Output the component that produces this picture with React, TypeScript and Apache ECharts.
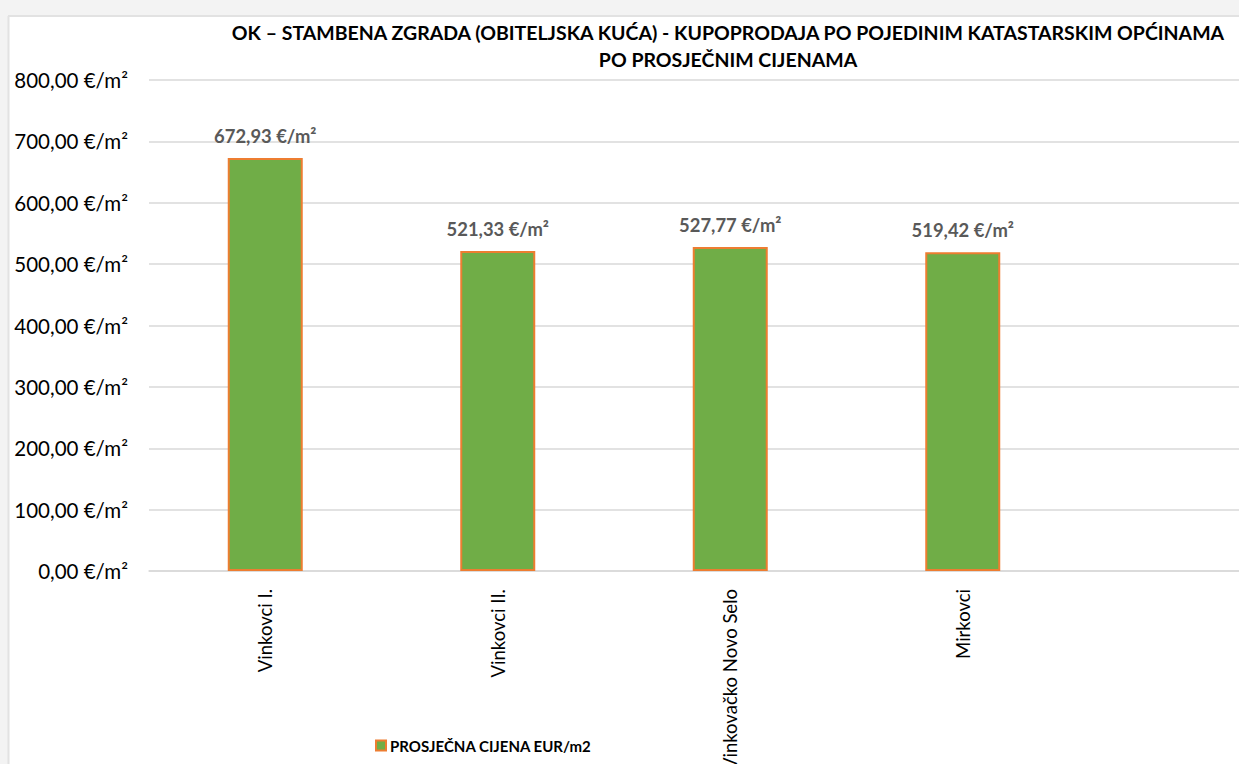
import React, { useEffect, useRef } from "react";
import * as echarts from "echarts";

const categories = ["Vinkovci I.", "Vinkovci II.", "Vinkovačko Novo Selo", "Mirkovci"];
const values = [672.93, 521.33, 527.77, 519.42];
const seriesName = "PROSJEČNA CIJENA EUR/m2";
const titleLines = [
  "OK – STAMBENA ZGRADA (OBITELJSKA KUĆA) - KUPOPRODAJA PO POJEDINIM KATASTARSKIM OPĆINAMA",
  "PO PROSJEČNIM CIJENAMA",
];
const yMin = 0;
const yMax = 800;
const yStep = 100;

const FONT = "Lato, 'Open Sans', sans-serif";

const fmt = (v: number) => v.toFixed(2).replace(".", ",") + " €/m²";

export default function App() {
  const ref = useRef<HTMLDivElement>(null);
  useEffect(() => {
    if (!ref.current) return;
    const chart = echarts.init(ref.current, null, { renderer: "svg" });
    chart.setOption({
      animation: false,
      backgroundColor: "#ffffff",
      textStyle: { fontFamily: FONT },
      title: {
        text: titleLines.join("\n"),
        left: 728,
        top: 19,
        padding: 0,
        textAlign: "center",
        textStyle: {
          fontFamily: FONT,
          fontWeight: "bold",
          fontSize: 19.5,
          lineHeight: 27,
          color: "#000000",
        },
      },
      graphic: [
        { type: "rect", shape: { x: 0, y: 0, width: 1239, height: 16 }, style: { fill: "#f3f3f3" }, z: -10 },
        { type: "rect", shape: { x: 0, y: 0, width: 8, height: 764 }, style: { fill: "#f3f3f3" }, z: -10 },
        { type: "line", shape: { x1: 8, y1: 16, x2: 1239, y2: 16 }, style: { stroke: "#e2e2e2", lineWidth: 2 }, z: -9 },
        { type: "line", shape: { x1: 8.5, y1: 16, x2: 8.5, y2: 764 }, style: { stroke: "#e2e2e2", lineWidth: 2 }, z: -9 },
      ],
      legend: {
        left: 375,
        top: 738,
        padding: 0,
        itemWidth: 10,
        itemHeight: 10,
        itemGap: 5,
        icon: "rect",
        textStyle: { fontFamily: FONT, fontWeight: "bold", fontSize: 15, color: "#000000", padding: [0, 0, 0, -1] },
        data: [seriesName],
      },
      grid: {
        left: 149,
        top: 80,
        width: 1162.5,
        height: 491,
        containLabel: false,
        outerBoundsMode: "none",
      },
      xAxis: {
        type: "category",
        data: categories,
        max: categories.length,
        axisLine: { show: true, lineStyle: { color: "#d9d9d9", width: 1.5 } },
        axisTick: { show: false },
        axisLabel: {
          rotate: 90,
          margin: 18,
          fontSize: 18.5,
          color: "#000000",
          fontFamily: FONT,
          interval: 0,
          formatter: (v: string) => (v == null || v === "undefined" ? "" : v),
        },
      },
      yAxis: {
        type: "value",
        min: yMin,
        max: yMax,
        interval: yStep,
        axisLine: { show: false },
        axisTick: { show: false },
        splitLine: { lineStyle: { color: "#d9d9d9", width: 1.5 } },
        axisLabel: {
          formatter: (v: number) => fmt(v),
          fontSize: 20.5,
          color: "#000000",
          margin: 21,
          fontFamily: FONT,
        },
      },
      series: [
        {
          name: seriesName,
          type: "bar",
          data: values,
          barWidth: 75,
          itemStyle: { color: "#70ad47", borderColor: "#ed7d31", borderWidth: 2 },
          label: {
            show: true,
            position: "top",
            distance: 13,
            formatter: (p: any) => fmt(p.value),
            fontFamily: FONT,
            fontWeight: "bold",
            fontSize: 18.4,
            color: "#595959",
          },
        },
      ],
    });
    return () => chart.dispose();
  }, []);
  return (
    <div
      ref={ref}
      style={{ position: "fixed", left: 0, top: 0, width: 1239, height: 764, overflow: "hidden" }}
    />
  );
}
